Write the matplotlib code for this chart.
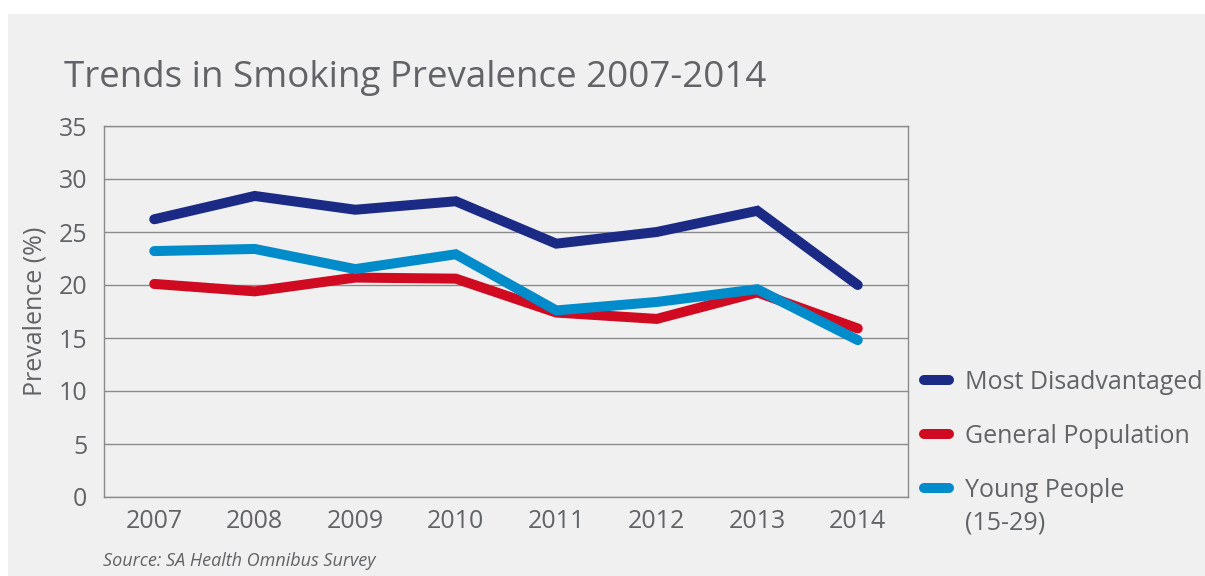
import matplotlib.pyplot as plt
from matplotlib.patches import Rectangle

years = ["2007", "2008", "2009", "2010", "2011", "2012", "2013", "2014"]
most_disadvantaged = [26.2, 28.4, 27.1, 27.9, 23.9, 25.0, 27.0, 20.0]
general_population = [20.1, 19.4, 20.7, 20.6, 17.4, 16.8, 19.3, 15.9]
young_people = [23.2, 23.4, 21.5, 22.9, 17.6, 18.4, 19.6, 14.8]

plt.rcParams["font.family"] = ["Open Sans", "DejaVu Sans"]

text_col = "#626366"
bg = "#eff0ef"

fig = plt.figure(figsize=(12.05, 5.76), dpi=100, facecolor="white")
fig.patches.append(Rectangle((8 / 1205, 0), 1, 1 - 14 / 576, transform=fig.transFigure,
                             facecolor=bg, edgecolor="none", zorder=-10))

ax = fig.add_axes([104 / 1205, 1 - 497 / 576, 804 / 1205, 371 / 576])
ax.set_facecolor(bg)

x = range(len(years))
ax.plot(x, most_disadvantaged, color="#1b2a84", lw=7.2, solid_capstyle="round",
        solid_joinstyle="miter", label="Most Disadvantaged", zorder=3)
ax.plot(x, general_population, color="#cf0a21", lw=7.2, solid_capstyle="round",
        solid_joinstyle="miter", label="General Population", zorder=4)
ax.plot(x, young_people, color="#008bca", lw=7.2, solid_capstyle="round",
        solid_joinstyle="miter", label="Young People", zorder=5)

ax.set_xlim(-0.5, len(years) - 0.5)
ax.set_ylim(0, 35)
ax.set_yticks(range(0, 36, 5))
ax.set_xticks(list(x))
ax.set_xticklabels(years)
ax.grid(axis="y", color="#8a8b8c", lw=1)
ax.set_axisbelow(True)
for s in ax.spines.values():
    s.set_color("#8a8b8c")
    s.set_linewidth(1)
ax.tick_params(length=0, labelsize=18, labelcolor=text_col)
ax.tick_params(axis="x", pad=9)
ax.tick_params(axis="y", pad=12)

ax.set_ylabel("Prevalence (%)", fontsize=18, color=text_col, labelpad=8)

fig.text(64 / 1205, 1 - 87 / 576, "Trends in Smoking Prevalence 2007-2014",
         fontsize=26.5, color=text_col)
fig.text(103 / 1205, 1 - 566 / 576, "Source: SA Health Omnibus Survey",
         fontsize=13, color=text_col, style="italic")

leg = ax.legend(loc="upper left", bbox_to_anchor=(924 / 1205, 1 - 370 / 576),
                bbox_transform=fig.transFigure, frameon=False, fontsize=18,
                handlelength=1.0, handletextpad=0.62, labelspacing=1.16,
                borderaxespad=0, borderpad=0)
for t in leg.get_texts():
    t.set_color(text_col)

# second line of the last legend label, placed under its first line
fig.canvas.draw()
last = leg.get_texts()[-1].get_window_extent()
fig.text(last.x0 / 1205, (last.y0 - 32) / 576, "(15-29)",
         fontsize=18, color=text_col, va="bottom")

fig.savefig("out.png", dpi=100, facecolor="white")
